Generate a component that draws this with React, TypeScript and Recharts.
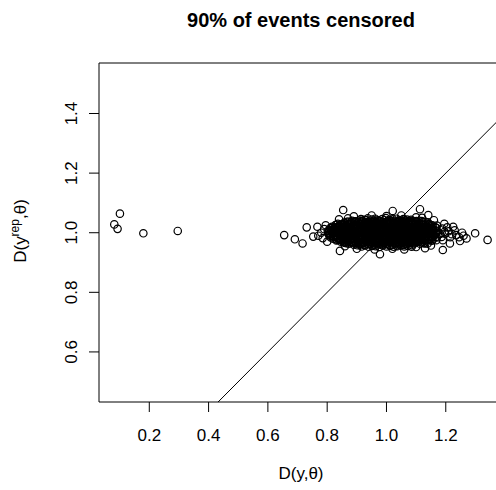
import { ScatterChart, Scatter, XAxis, YAxis, ReferenceLine, ReferenceArea, Customized } from 'recharts'

const FONT = '"Liberation Sans", Arial, Helvetica, sans-serif'

const title = '90% of events censored'
const xTicks = [0.2, 0.4, 0.6, 0.8, 1.0, 1.2]
const yTicks = [0.6, 0.8, 1.0, 1.2, 1.4]
const xDomain: [number, number] = [0.0304, 1.393]
const yDomain: [number, number] = [0.432, 1.5695]

// the few points far to the left
const leftX = [0.082, 0.093, 0.101, 0.18, 0.296]
const leftY = [1.028, 1.013, 1.064, 0.998, 1.006]

// stragglers around the main cloud
const outliers: [number, number][] = [
  [0.655, 0.992], [0.691, 0.978], [0.717, 0.964], [0.731, 1.018], [0.767, 1.02],
  [0.753, 0.987], [0.854, 1.076], [1.021, 1.073], [0.978, 0.928], [1.299, 0.998],
  [1.341, 0.976], [1.27, 0.981], [1.248, 0.972], [1.214, 0.964], [0.843, 0.939],
  [1.19, 0.942], [1.113, 1.079], [1.141, 1.059],
]

// sparse edge of the cloud
const ring: [number, number][] = [
  [0.78, 1.0], [0.77, 0.99], [0.79, 1.012], [0.785, 0.982], [0.795, 1.025], [0.8, 0.97],
  [1.21, 1.005], [1.22, 0.995], [1.205, 1.018], [1.215, 0.985], [1.23, 1.008], [1.235, 0.992],
  [1.225, 1.02], [1.195, 1.03], [1.245, 0.985], [1.19, 0.975], [1.255, 1.0], [1.26, 0.99],
  [0.87, 1.048], [0.89, 1.055], [0.95, 1.058], [1.0, 1.056], [1.05, 1.058], [1.1, 1.052],
  [1.12, 1.05], [0.84, 1.045], [1.16, 1.042],
  [0.86, 0.955], [0.9, 0.946], [0.96, 0.944], [1.02, 0.946], [1.06, 0.944], [1.1, 0.952],
  [1.15, 0.957], [1.13, 0.948],
]

// dense core, read row by row
const rowAX = [0.914, 0.926, 0.937, 0.951, 0.962, 0.973, 0.986, 0.998, 1.009, 1.021, 1.034, 1.046, 1.057, 1.069, 1.083]
const rowAY = [1.046, 1.043, 1.048, 1.044, 1.047, 1.042, 1.046, 1.049, 1.043, 1.045, 1.047, 1.042, 1.046, 1.044, 1.043]
const rowBX = [0.858, 0.871, 0.882, 0.894, 0.907, 0.919, 0.931, 0.942, 0.955, 0.967, 0.978, 0.991, 1.003, 1.014, 1.026, 1.039, 1.05, 1.062, 1.075, 1.086, 1.098, 1.111, 1.123, 1.14]
const rowBY = [1.034, 1.037, 1.032, 1.036, 1.033, 1.038, 1.035, 1.031, 1.036, 1.034, 1.038, 1.033, 1.035, 1.037, 1.032, 1.036, 1.034, 1.038, 1.033, 1.035, 1.037, 1.032, 1.036, 1.034]
const rowCX = [0.828, 0.839, 0.851, 0.864, 0.876, 0.887, 0.899, 0.911, 0.923, 0.935, 0.946, 0.958, 0.97, 0.983, 0.994, 1.006, 1.018, 1.029, 1.041, 1.053, 1.066, 1.077, 1.089, 1.101, 1.113, 1.124, 1.137, 1.149, 1.17]
const rowCY = [1.026, 1.023, 1.027, 1.024, 1.028, 1.022, 1.025, 1.027, 1.023, 1.026, 1.024, 1.028, 1.022, 1.025, 1.027, 1.024, 1.026, 1.023, 1.027, 1.025, 1.022, 1.026, 1.028, 1.024, 1.025, 1.027, 1.023, 1.026, 1.024]
const rowDX = [0.81, 0.822, 0.833, 0.845, 0.857, 0.869, 0.881, 0.893, 0.904, 0.916, 0.928, 0.94, 0.952, 0.963, 0.975, 0.987, 0.999, 1.011, 1.023, 1.034, 1.046, 1.058, 1.07, 1.082, 1.094, 1.105, 1.117, 1.129, 1.141, 1.153, 1.168, 1.188]
const rowDY = [1.016, 1.013, 1.017, 1.014, 1.012, 1.016, 1.018, 1.013, 1.015, 1.017, 1.012, 1.016, 1.014, 1.018, 1.013, 1.015, 1.017, 1.012, 1.016, 1.014, 1.018, 1.013, 1.015, 1.017, 1.012, 1.016, 1.014, 1.017, 1.013, 1.015, 1.016, 1.014]
const rowEX = [0.802, 0.814, 0.826, 0.838, 0.849, 0.861, 0.873, 0.885, 0.897, 0.909, 0.92, 0.932, 0.944, 0.956, 0.968, 0.98, 0.991, 1.003, 1.015, 1.027, 1.039, 1.051, 1.062, 1.074, 1.086, 1.098, 1.11, 1.122, 1.133, 1.145, 1.157, 1.172, 1.196]
const rowEY = [1.006, 1.003, 1.007, 1.004, 1.002, 1.006, 1.008, 1.003, 1.005, 1.007, 1.002, 1.006, 1.004, 1.008, 1.003, 1.005, 1.007, 1.002, 1.006, 1.004, 1.008, 1.003, 1.005, 1.007, 1.002, 1.006, 1.004, 1.007, 1.003, 1.005, 1.006, 1.004, 1.003]
const rowFX = [0.806, 0.819, 0.831, 0.842, 0.854, 0.866, 0.878, 0.89, 0.902, 0.913, 0.925, 0.937, 0.949, 0.961, 0.972, 0.984, 0.996, 1.008, 1.02, 1.031, 1.043, 1.055, 1.067, 1.079, 1.091, 1.102, 1.114, 1.126, 1.138, 1.15, 1.163, 1.181, 1.198]
const rowFY = [0.994, 0.997, 0.993, 0.996, 0.998, 0.994, 0.992, 0.997, 0.995, 0.993, 0.998, 0.994, 0.996, 0.992, 0.997, 0.995, 0.993, 0.998, 0.994, 0.996, 0.992, 0.997, 0.995, 0.993, 0.998, 0.994, 0.996, 0.993, 0.997, 0.995, 0.994, 0.996, 0.997]
const rowGX = [0.812, 0.824, 0.836, 0.848, 0.86, 0.871, 0.883, 0.895, 0.907, 0.919, 0.93, 0.942, 0.954, 0.966, 0.978, 0.99, 1.001, 1.013, 1.025, 1.037, 1.049, 1.06, 1.072, 1.084, 1.096, 1.108, 1.12, 1.131, 1.143, 1.155, 1.17, 1.186]
const rowGY = [0.984, 0.987, 0.983, 0.986, 0.988, 0.984, 0.982, 0.987, 0.985, 0.983, 0.988, 0.984, 0.986, 0.982, 0.987, 0.985, 0.983, 0.988, 0.984, 0.986, 0.982, 0.987, 0.985, 0.983, 0.988, 0.984, 0.986, 0.983, 0.987, 0.985, 0.984, 0.986]
const rowHX = [0.831, 0.843, 0.855, 0.867, 0.878, 0.89, 0.902, 0.914, 0.926, 0.938, 0.949, 0.961, 0.973, 0.985, 0.997, 1.009, 1.02, 1.032, 1.044, 1.056, 1.068, 1.08, 1.091, 1.103, 1.115, 1.127, 1.139, 1.152, 1.168]
const rowHY = [0.974, 0.977, 0.973, 0.976, 0.978, 0.974, 0.972, 0.977, 0.975, 0.973, 0.978, 0.974, 0.976, 0.972, 0.977, 0.975, 0.973, 0.978, 0.974, 0.976, 0.972, 0.977, 0.975, 0.973, 0.978, 0.974, 0.976, 0.973, 0.975]
const rowIX = [0.861, 0.873, 0.885, 0.897, 0.909, 0.921, 0.933, 0.945, 0.957, 0.969, 0.981, 0.993, 1.005, 1.017, 1.029, 1.041, 1.053, 1.065, 1.077, 1.089, 1.101, 1.113, 1.125, 1.139]
const rowIY = [0.966, 0.963, 0.967, 0.964, 0.962, 0.966, 0.968, 0.963, 0.965, 0.967, 0.962, 0.966, 0.964, 0.968, 0.963, 0.965, 0.967, 0.962, 0.966, 0.964, 0.968, 0.963, 0.965, 0.964]
const rowJX = [0.916, 0.928, 0.94, 0.952, 0.964, 0.976, 0.988, 1.0, 1.012, 1.024, 1.036, 1.048, 1.06, 1.072, 1.085]
const rowJY = [0.954, 0.957, 0.953, 0.956, 0.955, 0.952, 0.957, 0.954, 0.956, 0.953, 0.955, 0.957, 0.954, 0.956, 0.953]

// second, interleaved pass through the core (it is solid black)
const rowKX = [0.884, 0.896, 0.909, 0.921, 0.932, 0.944, 0.957, 0.969, 0.98, 0.992, 1.004, 1.016, 1.028, 1.04, 1.052, 1.063, 1.075, 1.088, 1.101]
const rowKY = [1.04, 1.038, 1.041, 1.039, 1.042, 1.037, 1.04, 1.041, 1.038, 1.042, 1.039, 1.04, 1.037, 1.041, 1.039, 1.042, 1.038, 1.04, 1.039]
const rowLX = [0.836, 0.848, 0.86, 0.872, 0.884, 0.896, 0.908, 0.92, 0.932, 0.944, 0.956, 0.968, 0.98, 0.992, 1.004, 1.016, 1.028, 1.04, 1.052, 1.064, 1.076, 1.088, 1.1, 1.112, 1.124, 1.143]
const rowLY = [1.03, 1.028, 1.031, 1.029, 1.032, 1.027, 1.03, 1.031, 1.028, 1.032, 1.029, 1.03, 1.027, 1.031, 1.029, 1.032, 1.028, 1.03, 1.029, 1.031, 1.028, 1.032, 1.03, 1.027, 1.031, 1.029]
const rowMX = [0.816, 0.828, 0.84, 0.852, 0.864, 0.875, 0.887, 0.899, 0.911, 0.923, 0.935, 0.947, 0.959, 0.971, 0.983, 0.995, 1.007, 1.019, 1.031, 1.043, 1.055, 1.067, 1.079, 1.091, 1.103, 1.115, 1.127, 1.139, 1.151, 1.164]
const rowMY = [1.02, 1.018, 1.021, 1.019, 1.022, 1.017, 1.02, 1.021, 1.018, 1.022, 1.019, 1.02, 1.017, 1.021, 1.019, 1.022, 1.018, 1.02, 1.019, 1.021, 1.018, 1.022, 1.02, 1.017, 1.021, 1.019, 1.02, 1.018, 1.021, 1.019]
const rowNX = [0.808, 0.82, 0.832, 0.844, 0.856, 0.868, 0.88, 0.892, 0.904, 0.916, 0.928, 0.94, 0.951, 0.963, 0.975, 0.987, 0.999, 1.011, 1.023, 1.035, 1.047, 1.059, 1.071, 1.083, 1.095, 1.107, 1.119, 1.131, 1.143, 1.158]
const rowNY = [1.01, 1.008, 1.011, 1.009, 1.012, 1.007, 1.01, 1.011, 1.008, 1.012, 1.009, 1.01, 1.007, 1.011, 1.009, 1.012, 1.008, 1.01, 1.009, 1.011, 1.008, 1.012, 1.01, 1.007, 1.011, 1.009, 1.01, 1.008, 1.011, 1.009]
const rowOX = [0.805, 0.817, 0.829, 0.841, 0.853, 0.865, 0.877, 0.889, 0.901, 0.913, 0.925, 0.937, 0.949, 0.961, 0.973, 0.985, 0.997, 1.009, 1.021, 1.033, 1.045, 1.057, 1.069, 1.081, 1.093, 1.105, 1.117, 1.129, 1.141, 1.153, 1.168]
const rowOY = [1.0, 0.998, 1.001, 0.999, 1.002, 0.997, 1.0, 1.001, 0.998, 1.002, 0.999, 1.0, 0.997, 1.001, 0.999, 1.002, 0.998, 1.0, 0.999, 1.001, 0.998, 1.002, 1.0, 0.997, 1.001, 0.999, 1.0, 0.998, 1.001, 0.999, 1.0]
const rowPX = [0.809, 0.821, 0.833, 0.845, 0.857, 0.869, 0.881, 0.893, 0.905, 0.917, 0.929, 0.941, 0.953, 0.965, 0.977, 0.989, 1.001, 1.013, 1.025, 1.037, 1.049, 1.061, 1.073, 1.085, 1.097, 1.109, 1.121, 1.133, 1.145, 1.16]
const rowPY = [0.99, 0.988, 0.991, 0.989, 0.992, 0.987, 0.99, 0.991, 0.988, 0.992, 0.989, 0.99, 0.987, 0.991, 0.989, 0.992, 0.988, 0.99, 0.989, 0.991, 0.988, 0.992, 0.99, 0.987, 0.991, 0.989, 0.99, 0.988, 0.991, 0.989]
const rowQX = [0.82, 0.832, 0.844, 0.856, 0.868, 0.88, 0.892, 0.904, 0.916, 0.928, 0.94, 0.952, 0.964, 0.976, 0.988, 1.0, 1.012, 1.024, 1.036, 1.048, 1.06, 1.072, 1.084, 1.096, 1.108, 1.12, 1.132, 1.15]
const rowQY = [0.98, 0.978, 0.981, 0.979, 0.982, 0.977, 0.98, 0.981, 0.978, 0.982, 0.979, 0.98, 0.977, 0.981, 0.979, 0.982, 0.978, 0.98, 0.979, 0.981, 0.978, 0.982, 0.98, 0.977, 0.981, 0.979, 0.98, 0.978]
const rowRX = [0.846, 0.858, 0.87, 0.882, 0.894, 0.906, 0.918, 0.93, 0.942, 0.954, 0.966, 0.978, 0.99, 1.002, 1.014, 1.026, 1.038, 1.05, 1.062, 1.074, 1.086, 1.098, 1.11, 1.128]
const rowRY = [0.97, 0.968, 0.971, 0.969, 0.972, 0.967, 0.97, 0.971, 0.968, 0.972, 0.969, 0.97, 0.967, 0.971, 0.969, 0.972, 0.968, 0.97, 0.969, 0.971, 0.968, 0.972, 0.97, 0.967]
const rowSX = [0.89, 0.902, 0.914, 0.926, 0.938, 0.95, 0.962, 0.974, 0.986, 0.998, 1.01, 1.022, 1.034, 1.046, 1.058, 1.07, 1.086]
const rowSY = [0.96, 0.958, 0.961, 0.959, 0.962, 0.957, 0.96, 0.961, 0.958, 0.962, 0.959, 0.96, 0.957, 0.961, 0.959, 0.962, 0.958]

// third pass, shifted, for the blackest part
const rowTX = [0.867, 0.879, 0.892, 0.903, 0.915, 0.928, 0.939, 0.951, 0.964, 0.975, 0.987, 1.0, 1.011, 1.023, 1.036, 1.047, 1.059, 1.072, 1.083, 1.095, 1.108, 1.119, 1.131]
const rowTY = [1.037, 1.035, 1.038, 1.036, 1.039, 1.034, 1.037, 1.038, 1.035, 1.039, 1.036, 1.037, 1.034, 1.038, 1.036, 1.039, 1.035, 1.037, 1.036, 1.038, 1.035, 1.039, 1.037]
const rowUX = [0.831, 0.844, 0.855, 0.867, 0.88, 0.891, 0.903, 0.916, 0.927, 0.939, 0.952, 0.963, 0.975, 0.988, 0.999, 1.011, 1.024, 1.035, 1.047, 1.06, 1.071, 1.083, 1.096, 1.107, 1.119, 1.132, 1.143, 1.155]
const rowUY = [1.027, 1.025, 1.028, 1.026, 1.029, 1.024, 1.027, 1.028, 1.025, 1.029, 1.026, 1.027, 1.024, 1.028, 1.026, 1.029, 1.025, 1.027, 1.026, 1.028, 1.025, 1.029, 1.027, 1.024, 1.028, 1.026, 1.027, 1.025]
const rowVX = [0.819, 0.832, 0.843, 0.855, 0.868, 0.879, 0.891, 0.904, 0.915, 0.927, 0.94, 0.951, 0.963, 0.976, 0.987, 0.999, 1.012, 1.023, 1.035, 1.048, 1.059, 1.071, 1.084, 1.095, 1.107, 1.12, 1.131, 1.143, 1.156, 1.167]
const rowVY = [1.017, 1.015, 1.018, 1.016, 1.019, 1.014, 1.017, 1.018, 1.015, 1.019, 1.016, 1.017, 1.014, 1.018, 1.016, 1.019, 1.015, 1.017, 1.016, 1.018, 1.015, 1.019, 1.017, 1.014, 1.018, 1.016, 1.017, 1.015, 1.018, 1.016]
const rowWX = [0.807, 0.82, 0.831, 0.843, 0.856, 0.867, 0.879, 0.892, 0.903, 0.915, 0.928, 0.939, 0.951, 0.964, 0.975, 0.987, 1.0, 1.011, 1.023, 1.036, 1.047, 1.059, 1.072, 1.083, 1.095, 1.108, 1.119, 1.131, 1.144, 1.155, 1.167]
const rowWY = [1.007, 1.005, 1.008, 1.006, 1.009, 1.004, 1.007, 1.008, 1.005, 1.009, 1.006, 1.007, 1.004, 1.008, 1.006, 1.009, 1.005, 1.007, 1.006, 1.008, 1.005, 1.009, 1.007, 1.004, 1.008, 1.006, 1.007, 1.005, 1.008, 1.006, 1.007]
const rowXX = [0.808, 0.819, 0.832, 0.844, 0.855, 0.868, 0.88, 0.891, 0.904, 0.916, 0.927, 0.94, 0.952, 0.963, 0.976, 0.988, 0.999, 1.012, 1.024, 1.035, 1.048, 1.06, 1.071, 1.084, 1.096, 1.107, 1.12, 1.132, 1.143, 1.156, 1.166]
const rowXY = [0.997, 0.995, 0.998, 0.996, 0.999, 0.994, 0.997, 0.998, 0.995, 0.999, 0.996, 0.997, 0.994, 0.998, 0.996, 0.999, 0.995, 0.997, 0.996, 0.998, 0.995, 0.999, 0.997, 0.994, 0.998, 0.996, 0.997, 0.995, 0.998, 0.996, 0.997]
const rowYX = [0.82, 0.831, 0.844, 0.856, 0.867, 0.88, 0.892, 0.903, 0.916, 0.928, 0.939, 0.952, 0.964, 0.975, 0.988, 1.0, 1.011, 1.024, 1.036, 1.047, 1.06, 1.072, 1.083, 1.096, 1.108, 1.119, 1.132, 1.144, 1.155, 1.166]
const rowYY = [0.987, 0.985, 0.988, 0.986, 0.989, 0.984, 0.987, 0.988, 0.985, 0.989, 0.986, 0.987, 0.984, 0.988, 0.986, 0.989, 0.985, 0.987, 0.986, 0.988, 0.985, 0.989, 0.987, 0.984, 0.988, 0.986, 0.987, 0.985, 0.988, 0.986]
const rowZX = [0.832, 0.843, 0.856, 0.868, 0.879, 0.892, 0.904, 0.915, 0.928, 0.94, 0.951, 0.964, 0.976, 0.987, 1.0, 1.012, 1.023, 1.036, 1.048, 1.059, 1.072, 1.084, 1.095, 1.108, 1.12, 1.131, 1.144, 1.155]
const rowZY = [0.977, 0.975, 0.978, 0.976, 0.979, 0.974, 0.977, 0.978, 0.975, 0.979, 0.976, 0.977, 0.974, 0.978, 0.976, 0.979, 0.975, 0.977, 0.976, 0.978, 0.975, 0.979, 0.977, 0.974, 0.978, 0.976, 0.977, 0.975]
const rowZZX = [0.856, 0.867, 0.88, 0.892, 0.903, 0.916, 0.928, 0.939, 0.952, 0.964, 0.975, 0.988, 1.0, 1.011, 1.024, 1.036, 1.047, 1.06, 1.072, 1.083, 1.096, 1.108, 1.119, 1.131]
const rowZZY = [0.967, 0.965, 0.968, 0.966, 0.969, 0.964, 0.967, 0.968, 0.965, 0.969, 0.966, 0.967, 0.964, 0.968, 0.966, 0.969, 0.965, 0.967, 0.966, 0.968, 0.965, 0.969, 0.967, 0.964]

const zipRow = (xs: number[], ys: number[]) => xs.map((x, i) => ({ x, y: ys[i] }))

const points = [
  ...zipRow(leftX, leftY),
  ...outliers.map(([x, y]) => ({ x, y })),
  ...ring.map(([x, y]) => ({ x, y })),
  ...zipRow(rowAX, rowAY),
  ...zipRow(rowBX, rowBY),
  ...zipRow(rowCX, rowCY),
  ...zipRow(rowDX, rowDY),
  ...zipRow(rowEX, rowEY),
  ...zipRow(rowFX, rowFY),
  ...zipRow(rowGX, rowGY),
  ...zipRow(rowHX, rowHY),
  ...zipRow(rowIX, rowIY),
  ...zipRow(rowJX, rowJY),
  ...zipRow(rowKX, rowKY),
  ...zipRow(rowLX, rowLY),
  ...zipRow(rowMX, rowMY),
  ...zipRow(rowNX, rowNY),
  ...zipRow(rowOX, rowOY),
  ...zipRow(rowPX, rowPY),
  ...zipRow(rowQX, rowQY),
  ...zipRow(rowRX, rowRY),
  ...zipRow(rowSX, rowSY),
  ...zipRow(rowTX, rowTY),
  ...zipRow(rowUX, rowUY),
  ...zipRow(rowVX, rowVY),
  ...zipRow(rowWX, rowWY),
  ...zipRow(rowXX, rowXY),
  ...zipRow(rowYX, rowYY),
  ...zipRow(rowZX, rowZY),
  ...zipRow(rowZZX, rowZZY),
]

const Ring = (props: any) => (
  <circle cx={props.cx} cy={props.cy} r={3.7} fill="none" stroke="#000" strokeWidth={1.2} />
)

const XTick = (props: any) => (
  <text x={props.x} y={441} textAnchor="middle" fontSize={17} fontFamily={FONT} fill="#000">
    {Number(props.payload.value).toFixed(1)}
  </text>
)

const YTick = (props: any) => (
  <text
    x={77}
    y={props.y}
    transform={`rotate(-90, 77, ${props.y})`}
    textAnchor="middle"
    fontSize={17}
    fontFamily={FONT}
    fill="#000"
  >
    {Number(props.payload.value).toFixed(1)}
  </text>
)

const Labels = () => (
  <g fontFamily={FONT} fill="#000">
    <text x={301} y={27} textAnchor="middle" fontSize={20} fontWeight="bold">
      {title}
    </text>
    <text x={301} y={479} textAnchor="middle" fontSize={17}>
      D(y,θ)
    </text>
    <text x={26} y={231} transform="rotate(-90, 26, 231)" textAnchor="middle" fontSize={17}>
      D(y
      <tspan dy={-7} fontSize={12}>rep</tspan>
      <tspan dy={7}>,θ)</tspan>
    </text>
  </g>
)

export default function App() {
  return (
    <div style={{ position: 'fixed', left: 0, top: 0, width: 496, height: 490, overflow: 'hidden', background: '#fff' }}>
      <ScatterChart width={520} height={490} margin={{ top: 63, right: 17, bottom: 48, left: 0 }}>
        <XAxis
          type="number"
          dataKey="x"
          domain={xDomain}
          ticks={xTicks}
          allowDataOverflow
          height={40}
          axisLine={false}
          tickSize={10}
          tickLine={{ stroke: '#000' }}
          tick={<XTick />}
        />
        <YAxis
          type="number"
          dataKey="y"
          domain={yDomain}
          ticks={yTicks}
          allowDataOverflow
          width={99}
          axisLine={false}
          tickSize={10}
          tickLine={{ stroke: '#000' }}
          tick={<YTick />}
        />
        <ReferenceArea
          x1={xDomain[0]}
          x2={xDomain[1]}
          y1={yDomain[0]}
          y2={yDomain[1]}
          fill="none"
          fillOpacity={0}
          stroke="#000"
          strokeWidth={1}
          ifOverflow="visible"
        />
        <ReferenceLine
          segment={[{ x: 0.432, y: 0.432 }, { x: 1.393, y: 1.393 }]}
          stroke="#000"
          strokeWidth={1}
          ifOverflow="visible"
        />
        <Scatter data={points} shape={<Ring />} isAnimationActive={false} />
        <Customized component={Labels} />
      </ScatterChart>
    </div>
  )
}
